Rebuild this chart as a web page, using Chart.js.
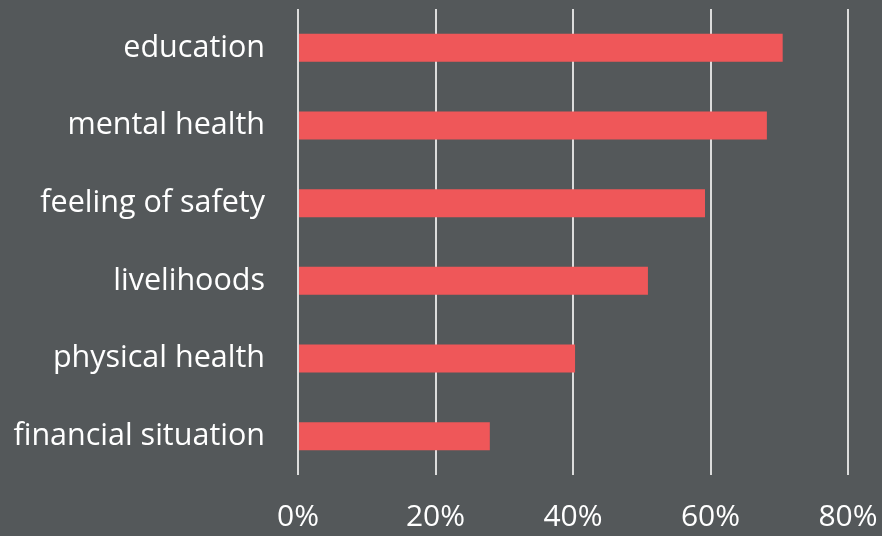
<!DOCTYPE html>
<html>
<head>
<meta charset="utf-8">
<script src="https://cdn.jsdelivr.net/npm/chart.js@4/dist/chart.umd.min.js"></script>
<style>
  html, body { margin: 0; padding: 0; background: #54585a; }
  #wrap { width: 882px; height: 536px; }
</style>
</head>
<body>
<div id="wrap"><canvas id="c"></canvas></div>
<script>
// values (percent)
const categories = ['education', 'mental health', 'feeling of safety', 'livelihoods', 'physical health', 'financial situation'];
const shares = [70.5, 68.2, 59.2, 50.9, 40.3, 27.9];
const tickStep = 20;
const xMax = 80;

const fontFamily = '"Open Sans", sans-serif';

new Chart(document.getElementById('c'), {
  type: 'bar',
  data: {
    labels: categories,
    datasets: [{
      data: shares,
      backgroundColor: '#ef5759',
      borderWidth: 0,
      categoryPercentage: 1,
      barPercentage: 0.36
    }]
  },
  options: {
    indexAxis: 'y',
    responsive: true,
    maintainAspectRatio: false,
    animation: false,
    layout: { padding: { top: 9, right: 34, left: 0, bottom: 0 } },
    plugins: { legend: { display: false }, tooltip: { enabled: false } },
    scales: {
      x: {
        min: 0,
        max: xMax,
        ticks: {
          stepSize: tickStep,
          color: '#ffffff',
          font: { family: fontFamily, size: 30 },
          padding: 24,
          callback: v => v + '%'
        },
        grid: { color: '#dcdcdc', lineWidth: 2, drawTicks: false },
        border: { display: false },
        afterFit: s => { s.height = 536 - 475; s.paddingLeft = 0; s.paddingRight = 0; }
      },
      y: {
        ticks: {
          color: '#ffffff',
          font: { family: fontFamily, size: 30.5 },
          padding: 33
        },
        grid: { display: false, drawTicks: false },
        border: { display: false },
        afterFit: s => { s.width = 298; s.paddingTop = 0; s.paddingBottom = 0; }
      }
    }
  }
});
</script>
</body>
</html>
